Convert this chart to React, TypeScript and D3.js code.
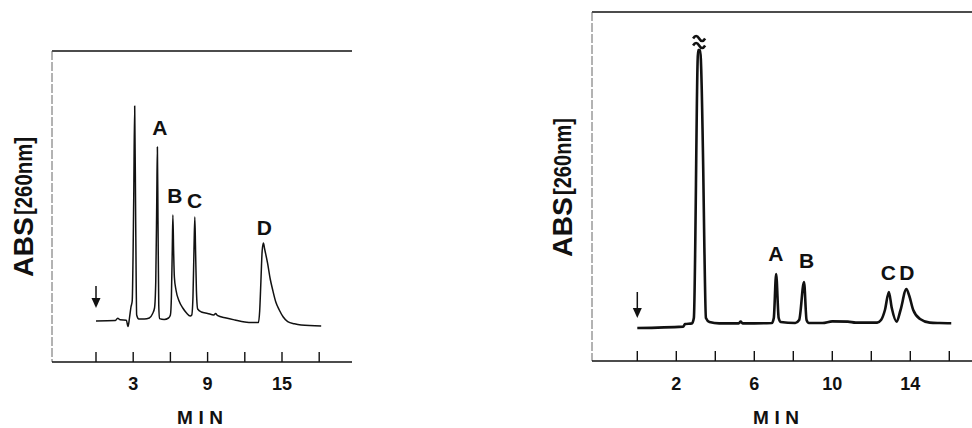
import React from "react";
import * as d3 from "d3";

// ---- Left chromatogram (time in min, relative absorbance) ----
const leftTime = [0, 1.55, 1.75, 1.95, 2.45, 2.58, 2.7, 2.82, 2.92, 3.04, 3.12, 3.2, 3.28, 3.45, 3.9, 4.3, 4.55, 4.72, 4.82, 4.9, 4.95, 5.0, 5.06, 5.12, 5.5, 5.85, 6.0, 6.08, 6.15, 6.2, 6.26, 6.32, 6.45, 6.7, 7.0, 7.3, 7.6, 7.72, 7.82, 7.9, 7.97, 8.03, 8.1, 8.2, 8.5, 9.0, 9.5, 9.65, 9.78, 10.5, 11.2, 12.0, 12.6, 13.1, 13.2, 13.3, 13.4, 13.5, 13.6, 13.84, 14.05, 14.25, 14.5, 14.78, 15.1, 15.46, 16.0, 16.54, 18.16];
const leftAbs = [0, 0.2, 1.4, 0.6, 0.4, -2.8, 1.5, 7, 10, 60, 107.5, 50, 3, 1, 1, 1.5, 3.5, 6.5, 20, 60, 87, 50, 8, 1.2, 0.8, 1.5, 3, 12, 35, 53, 35, 22, 15.5, 10, 6.5, 4, 2.5, 3, 12, 35, 52, 35, 15, 6, 4.5, 3.8, 3, 3.8, 2.8, 1.5, 0.5, -0.5, -0.8, -0.8, 5, 20, 35, 39, 36, 28.8, 21, 15.5, 9.5, 5.5, 2, -0.3, -1.4, -2, -2.5];

// ---- Right chromatogram ----
const rightTime = [0, 2.35, 2.45, 2.8, 2.9, 3.12, 3.22, 3.38, 3.44, 3.52, 3.7, 4.2, 5.2, 5.3, 5.4, 6.0, 6.9, 7.0, 7.12, 7.25, 7.35, 8.1, 8.3, 8.55, 8.68, 8.8, 9.5, 10.0, 10.8, 11.2, 12.3, 12.5, 12.7, 12.9, 13.05, 13.3, 13.5, 13.8, 13.95, 14.15, 14.5, 15.0, 15.5, 16.1];
const rightAbs = [0, 0.7, 2, 2.3, 5, 139, 139, 80, 40, 5, 3, 2.3, 2.3, 3.2, 2.3, 2.3, 2.5, 5, 27, 5, 3, 2.5, 4, 23, 4, 2.5, 2.5, 3.3, 3.2, 2.7, 2.7, 4, 9, 18, 10, 3.2, 9, 19.5, 16, 9, 4.5, 2.7, 2.5, 2.4];

// ---- Axis ticks ----
const leftTicks = [0, 3, 6, 9, 12, 15, 18];
const leftTickLabels = [3, 9, 15];
const rightTicks = [0, 2, 4, 6, 8, 10, 12, 14, 16];
const rightTickLabels = [2, 6, 10, 14];

// ---- Peak labels ----
const leftPeakNames = ["A", "B", "C", "D"];
const leftPeakT = [5.15, 6.36, 7.95, 13.58];
const leftPeakV = [93, 59, 56.5, 43];
const rightPeakNames = ["A", "B", "C", "D"];
const rightPeakT = [7.1, 8.68, 12.87, 13.82];
const rightPeakV = [33.5, 30, 24, 24];

const yLabelMain = "ABS";
const yLabelSub = "[260nm]";
const xLabel = "MIN";

const FONT = "'Liberation Sans', Arial, Helvetica, sans-serif";

type PanelProps = {
  times: number[];
  values: number[];
  xDomain: [number, number];
  xRange: [number, number];
  yDomain: [number, number];
  yRange: [number, number];
  frame: { x0: number; x1: number; top: number; bottom: number };
  ticks: number[];
  tickLabels: number[];
  peakNames: string[];
  peakT: number[];
  peakV: number[];
  lineWidth: number;
  yLabelX: number;
  yLabelBottom: number;
  mainLen: number;
  subLen: number;
  minX: number;
  breakMark?: number;
  arrowTop: number;
  arrowTip: number;
};

function Panel(p: PanelProps) {
  const x = d3.scaleLinear().domain(p.xDomain).range(p.xRange);
  const y = d3.scaleLinear().domain(p.yDomain).range(p.yRange);
  const pts: [number, number][] = p.times.map((t, i) => [t, p.values[i]]);
  const line = d3
    .line<[number, number]>()
    .x((d) => x(d[0]))
    .y((d) => y(d[1]))
    .curve(d3.curveMonotoneX);
  const ax = x(0);
  const { x0, x1, top, bottom } = p.frame;
  const peakTopIdx = p.values.indexOf(Math.max(...p.values));
  return (
    <g>
      {/* frame */}
      <line x1={x0} x2={x1} y1={top} y2={top} stroke="#111" strokeWidth={1.6} />
      <line x1={x0} x2={x0} y1={top} y2={bottom} stroke="#555" strokeWidth={0.9} strokeDasharray="9,2" />
      <line x1={x0} x2={x1} y1={bottom} y2={bottom} stroke="#111" strokeWidth={1.6} />
      {p.ticks.map((t) => (
        <line key={t} x1={x(t)} x2={x(t)} y1={bottom} y2={bottom - 10} stroke="#111" strokeWidth={1.4} />
      ))}
      {p.tickLabels.map((t) => (
        <text key={t} x={x(t)} y={390} textAnchor="middle" fontFamily={FONT} fontWeight="bold" fontSize={18} fill="#111">
          {t}
        </text>
      ))}
      <text x={p.minX} y={424} textAnchor="middle" fontFamily={FONT} fontWeight="bold" fontSize={19} fill="#111" textLength={46} lengthAdjust="spacing">
        {xLabel}
      </text>
      {/* y label */}
      <text
        transform={`translate(${p.yLabelX},${p.yLabelBottom}) rotate(-90)`}
        fontFamily={FONT}
        fontWeight="bold"
        fontSize={27}
        fill="#111"
        textLength={p.mainLen}
        lengthAdjust="spacingAndGlyphs"
      >
        {yLabelMain}
      </text>
      <text
        transform={`translate(${p.yLabelX - 1},${p.yLabelBottom - p.mainLen - 2}) rotate(-90)`}
        fontFamily={FONT}
        fontWeight="bold"
        fontSize={24}
        fill="#111"
        textLength={p.subLen}
        lengthAdjust="spacingAndGlyphs"
      >
        {yLabelSub}
      </text>
      {/* injection arrow */}
      <line x1={ax} x2={ax} y1={p.arrowTop} y2={p.arrowTip - 6} stroke="#111" strokeWidth={1.5} />
      <path d={`M${ax - 4.5},${p.arrowTip - 10} L${ax + 4.5},${p.arrowTip - 10} L${ax},${p.arrowTip} Z`} fill="#111" />
      {/* trace */}
      <path d={line(pts) ?? ""} fill="none" stroke="#111" strokeWidth={p.lineWidth} strokeLinejoin="round" />
      {p.breakMark !== undefined && (
        <g fill="none" stroke="#111" strokeWidth={2.6}>
          {[0, 7].map((o) => {
            const cx = x((p.times[peakTopIdx] + p.times[peakTopIdx + 1]) / 2);
            const cy = y(p.values[peakTopIdx]) - 13 + o;
            return <path key={o} d={`M${cx - 6},${cy + 1.5} q3,-5 6,0 t6,0`} />;
          })}
        </g>
      )}
      {p.peakNames.map((n, i) => (
        <text key={n + i} x={x(p.peakT[i])} y={y(p.peakV[i])} textAnchor="middle" fontFamily={FONT} fontWeight="bold" fontSize={21} fill="#111">
          {n}
        </text>
      ))}
    </g>
  );
}

export default function App() {
  return (
    <svg width={972} height={428} style={{ position: "absolute", left: 0, top: 0, background: "#fff" }}>
      <rect width={972} height={428} fill="#fff" />
      <Panel
        times={leftTime}
        values={leftAbs}
        xDomain={[0, 18]}
        xRange={[96, 319.2]}
        yDomain={[-20.5, 135]}
        yRange={[362, 51]}
        frame={{ x0: 52, x1: 352, top: 51, bottom: 362 }}
        ticks={leftTicks}
        tickLabels={leftTickLabels}
        peakNames={leftPeakNames}
        peakT={leftPeakT}
        peakV={leftPeakV}
        lineWidth={1.5}
        yLabelX={33}
        yLabelBottom={277}
        mainLen={60}
        subLen={78}
        minX={200}
        arrowTop={286}
        arrowTip={308}
      />
      <Panel
        times={rightTime}
        values={rightAbs}
        xDomain={[0, 16]}
        xRange={[637.3, 949.3]}
        yDomain={[-16.5, 158]}
        yRange={[361, 12]}
        frame={{ x0: 592, x1: 972, top: 12, bottom: 361 }}
        ticks={rightTicks}
        tickLabels={rightTickLabels}
        peakNames={rightPeakNames}
        peakT={rightPeakT}
        peakV={rightPeakV}
        lineWidth={2.6}
        yLabelX={572}
        yLabelBottom={257}
        mainLen={60}
        subLen={77}
        minX={776}
        breakMark={1}
        arrowTop={292}
        arrowTip={318}
      />
    </svg>
  );
}
